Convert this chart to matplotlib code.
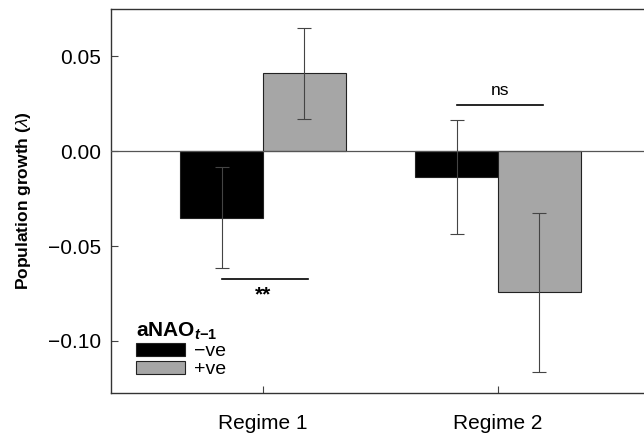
import matplotlib
matplotlib.use("Agg")
import matplotlib.pyplot as plt
from matplotlib.patches import Patch
import numpy as np

plt.rcParams['font.family'] = ['Liberation Sans', 'DejaVu Sans']
plt.rcParams['mathtext.fontset'] = 'custom'
plt.rcParams['mathtext.rm'] = 'Liberation Sans'
plt.rcParams['mathtext.it'] = 'Liberation Sans:italic'
plt.rcParams['mathtext.bf'] = 'Liberation Sans:bold'
plt.rcParams['mathtext.bfit'] = 'Liberation Sans:bold:italic'

# data
regimes = ['Regime 1', 'Regime 2']
neg_vals = [-0.035, -0.0137]
neg_err = [0.0265, 0.030]
pos_vals = [0.041, -0.0745]
pos_err = [0.024, 0.042]
series_labels = ['\u2212ve', '+ve']
sig_labels = ['**', 'ns']
sig_y = [-0.0675, 0.0245]

x = np.array([1, 2])
w = 0.353
black = '#000000'
grey = '#a6a6a6'

fig = plt.figure(figsize=(6.44, 4.33), dpi=100)
ax = fig.add_axes([111 / 644, 40 / 433, (650 - 111) / 644, (393 - 9) / 433])

ebkw = dict(ecolor='#444444', elinewidth=0.8, capsize=5, capthick=0.8)
ax.bar(x - w / 2, neg_vals, w, color=black, edgecolor='#222222', linewidth=0.8,
       yerr=neg_err, error_kw=ebkw, zorder=2)
ax.bar(x + w / 2, pos_vals, w, color=grey, edgecolor='#222222', linewidth=0.8,
       yerr=pos_err, error_kw=ebkw, zorder=2)
ax.axhline(0, color='#555555', linewidth=0.9, zorder=3)

# significance brackets
for xi, lab, yy in zip(x, sig_labels, sig_y):
    ax.plot([xi - w / 2, xi + w / 2 + 0.015], [yy, yy], color='black', linewidth=1.2)
    if lab == '**':
        ax.text(xi, yy - 0.003, lab, ha='center', va='top', fontsize=15, fontweight='bold')
    else:
        ax.text(xi + 0.01, yy + 0.0035, lab, ha='center', va='bottom', fontsize=12.5)

ax.set_xlim(0.353, 2.647)
ax.set_ylim(-0.1275, 0.075)
ax.set_xticks(x)
ax.set_xticklabels(regimes, fontsize=15)
ax.set_yticks([0.05, 0.0, -0.05, -0.10])
ax.set_yticklabels(['0.05', '0.00', '\u22120.05', '\u22120.10'], fontsize=15)
ax.tick_params(direction='in', length=5, width=0.8, color='#444444')
ax.tick_params(axis='x', pad=15)
ax.tick_params(axis='y', pad=7)
for s in ax.spines.values():
    s.set_color('#333333')
    s.set_linewidth(1.0)
ax.set_ylabel(r'Population growth ($\mathit{\lambda}$)', fontsize=12.5, fontweight='bold', labelpad=11)

handles = [Patch(facecolor=black, edgecolor='#222222', linewidth=0.8),
           Patch(facecolor=grey, edgecolor='#222222', linewidth=0.8)]
leg = ax.legend(handles, series_labels, title=r'$\mathbf{aNAO}_{\mathbfit{t}\mathbf{-1}}$',
                loc='lower left', bbox_to_anchor=(0.025, 0.008), frameon=False,
                fontsize=14, title_fontsize=15, handlelength=2.5, handleheight=0.6,
                labelspacing=0.05, handletextpad=0.45, borderaxespad=0.2)
leg._legend_box.align = 'left'

fig.savefig('out.png', dpi=100)
